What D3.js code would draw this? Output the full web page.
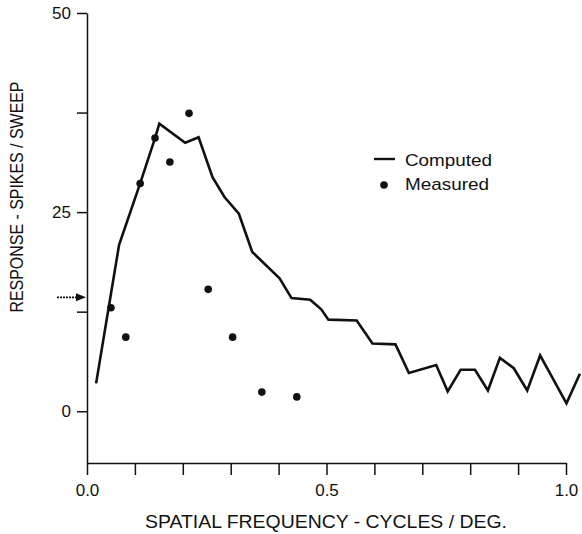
<!DOCTYPE html>
<html>
<head>
<meta charset="utf-8">
<script src="https://cdn.jsdelivr.net/npm/d3@7"></script>
<style>
  body { margin: 0; background: #fff; }
  text { font-family: "Liberation Sans", Arial, Helvetica, sans-serif; fill: #111; }
</style>
</head>
<body>
<div id="chart"></div>
<script>
//Computed response curve (spatial frequency, spikes/sweep)
var computedFreq = [0.019, 0.067, 0.111, 0.142, 0.151, 0.205, 0.233, 0.262, 0.287, 0.317,
                    0.345, 0.402, 0.427, 0.466, 0.489, 0.504, 0.563, 0.596, 0.644, 0.672,
                    0.729, 0.753, 0.780, 0.810, 0.837, 0.862, 0.891, 0.919, 0.946, 1.001, 1.029];
var computedResp = [3.5, 20.9, 28.6, 34.3, 36.1, 33.7, 34.4, 29.4, 26.9, 24.8,
                    20.0, 16.7, 14.2, 14.0, 12.8, 11.5, 11.4, 8.5, 8.4, 4.8,
                    5.8, 2.5, 5.2, 5.2, 2.6, 6.7, 5.4, 2.6, 7.0, 1.0, 4.7];

//Measured responses
var measuredFreq = [0.050, 0.081, 0.111, 0.142, 0.173, 0.213, 0.253, 0.304, 0.365, 0.438];
var measuredResp = [13.0, 9.3, 28.6, 34.3, 31.3, 37.4, 15.3, 9.3, 2.4, 1.8];

//Spontaneous level marked by the arrow
var arrowLevel = 14.3;

//Tick values
var xTicks = [0, 0.1, 0.2, 0.3, 0.4, 0.5, 0.6, 0.7, 0.8, 0.9, 1.0];
var xLabels = [0, 0.5, 1.0];
var yTicks = [0, 12.5, 25, 37.5, 50];
var yLabels = [0, 25, 50];

var width = 582,
    height = 534;

var svg = d3.select("#chart").append("svg")
    .attr("width", width)
    .attr("height", height);

//Scales
var x = d3.scaleLinear()
    .domain([0, 1])
    .range([87, 566]);

var y = d3.scaleLinear()
    .domain([-6.5, 50])
    .range([463, 13]);

///////////////////////////////////////////////////////////////////////////
//////////////////////////////// Axes /////////////////////////////////////
///////////////////////////////////////////////////////////////////////////

var xAxis = svg.append("g")
    .attr("transform", "translate(0," + y(-6.5) + ")")
    .call(d3.axisBottom(x)
        .tickValues(xTicks)
        .tickSize(12)
        .tickSizeOuter(0)
        .tickPadding(9)
        .tickFormat(function (d) {
            return xLabels.some(function (v) { return Math.abs(v - d) < 1e-9; }) ? d3.format(".1f")(d) : "";
        }));

var yAxis = svg.append("g")
    .attr("transform", "translate(" + x(0) + ",0)")
    .call(d3.axisLeft(y)
        .tickValues(yTicks)
        .tickSize(10)
        .tickSizeOuter(0)
        .tickPadding(6)
        .tickFormat(function (d) {
            return yLabels.indexOf(d) >= 0 ? d : "";
        }));

svg.selectAll(".domain, .tick line")
    .attr("stroke", "#111")
    .attr("stroke-width", 1.5);

svg.selectAll(".tick text")
    .style("font-size", "17px")
    .style("font-family", "'Liberation Sans', Arial, sans-serif")
    .attr("fill", "#111");

//Axis titles
svg.append("text")
    .attr("x", 326)
    .attr("y", 528)
    .attr("text-anchor", "middle")
    .attr("textLength", 362)
    .attr("lengthAdjust", "spacingAndGlyphs")
    .style("font-size", "18px")
    .text("SPATIAL FREQUENCY - CYCLES / DEG.");

svg.append("text")
    .attr("transform", "translate(23,197) rotate(-90)")
    .attr("text-anchor", "middle")
    .attr("textLength", 231)
    .attr("lengthAdjust", "spacingAndGlyphs")
    .style("font-size", "19px")
    .text("RESPONSE - SPIKES / SWEEP");

///////////////////////////////////////////////////////////////////////////
//////////////////////////////// Data /////////////////////////////////////
///////////////////////////////////////////////////////////////////////////

var computed = computedFreq.map(function (d, i) { return [d, computedResp[i]]; });
var measured = measuredFreq.map(function (d, i) { return [d, measuredResp[i]]; });

var line = d3.line()
    .x(function (d) { return x(d[0]); })
    .y(function (d) { return y(d[1]); });

svg.append("path")
    .datum(computed)
    .attr("d", line)
    .attr("fill", "none")
    .attr("stroke", "#111")
    .attr("stroke-width", 2.6)
    .attr("stroke-linejoin", "miter");

svg.selectAll(".dot")
    .data(measured)
    .enter().append("circle")
    .attr("class", "dot")
    .attr("cx", function (d) { return x(d[0]); })
    .attr("cy", function (d) { return y(d[1]); })
    .attr("r", 3.8)
    .attr("fill", "#111");

//Arrow at the spontaneous level
var ay = y(arrowLevel);
svg.append("line")
    .attr("x1", 57)
    .attr("x2", 78)
    .attr("y1", ay)
    .attr("y2", ay)
    .attr("stroke", "#111")
    .attr("stroke-width", 1.6)
    .attr("stroke-dasharray", "2,1");

svg.append("path")
    .attr("d", "M" + 76 + "," + (ay - 4) + "L" + 86 + "," + ay + "L" + 76 + "," + (ay + 4) + "Z")
    .attr("fill", "#111");

///////////////////////////////////////////////////////////////////////////
/////////////////////////////// Legend ////////////////////////////////////
///////////////////////////////////////////////////////////////////////////

svg.append("line")
    .attr("x1", 374)
    .attr("x2", 395)
    .attr("y1", 159)
    .attr("y2", 159)
    .attr("stroke", "#111")
    .attr("stroke-width", 2.4);

svg.append("text")
    .attr("x", 405)
    .attr("y", 166)
    .attr("textLength", 87)
    .attr("lengthAdjust", "spacingAndGlyphs")
    .style("font-size", "17px")
    .text("Computed");

svg.append("circle")
    .attr("cx", 384)
    .attr("cy", 185)
    .attr("r", 3.8)
    .attr("fill", "#111");

svg.append("text")
    .attr("x", 405)
    .attr("y", 190)
    .attr("textLength", 84)
    .attr("lengthAdjust", "spacingAndGlyphs")
    .style("font-size", "17px")
    .text("Measured");
</script>
</body>
</html>
